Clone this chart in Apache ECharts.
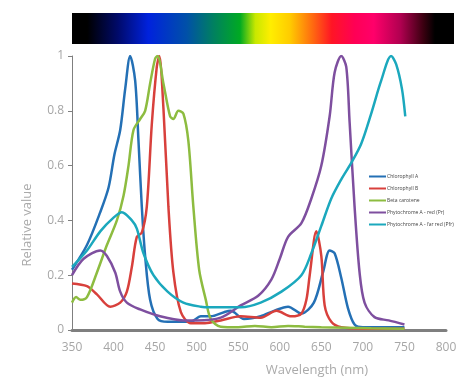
<!DOCTYPE html>
<html><head><meta charset="utf-8">
<script src="https://cdn.jsdelivr.net/npm/echarts@6/dist/echarts.min.js"></script>
<style>html,body{margin:0;padding:0;background:#fff}#c{width:470px;height:382px}</style>
</head><body><div id="c"></div>
<script>
var seriesNames = ['Chlorophyll A', 'Chlorophyll B', 'Beta carotene', 'Phytochrome A - red (Pr)', 'Phytochrome A - far red (Pfr)'];
var xTicks = [350, 400, 450, 500, 550, 600, 650, 700, 750, 800];
var yTicks = [0, 0.2, 0.4, 0.6, 0.8, 1];

var chlA = [[350,0.22],[368,0.31],[384,0.43],[394,0.52],[401,0.64],[408,0.73],[414,0.88],[420,1.0],[426,0.91],[430,0.69],[434,0.45],[438,0.27],[444,0.11],[453,0.04],[465,0.03],[493,0.03],[505,0.05],[517,0.05],[533,0.065],[541,0.07],[557,0.04],[577,0.05],[593,0.07],[610,0.085],[626,0.06],[641,0.1],[652,0.21],[660,0.29],[666,0.28],[674,0.19],[682,0.08],[690,0.02],[700,0.01],[750,0.01]];
var chlB = [[350,0.17],[368,0.16],[380,0.13],[396,0.085],[408,0.10],[416,0.14],[422,0.23],[428,0.34],[434,0.355],[440,0.45],[446,0.75],[452,0.96],[455,1.0],[460,0.81],[466,0.45],[472,0.21],[481,0.065],[493,0.025],[510,0.025],[529,0.035],[553,0.05],[577,0.045],[596,0.07],[614,0.05],[626,0.06],[632,0.11],[636,0.2],[644,0.36],[650,0.27],[654,0.09],[662,0.03],[674,0.01],[700,0.005],[750,0.005]];
var betaCar = [[350,0.10],[355,0.12],[360,0.11],[368,0.12],[380,0.21],[392,0.31],[404,0.40],[412,0.49],[418,0.60],[424,0.73],[432,0.77],[438,0.80],[444,0.90],[450,0.99],[453,1.0],[460,0.90],[468,0.78],[472,0.77],[478,0.80],[484,0.79],[490,0.69],[496,0.45],[503,0.22],[511,0.11],[517,0.04],[529,0.012],[550,0.01],[570,0.015],[590,0.01],[610,0.015],[630,0.012],[650,0.01],[680,0.008],[710,0.006],[750,0.005]];
var phyPr = [[350,0.2],[364,0.26],[384,0.29],[392,0.27],[402,0.21],[408,0.14],[416,0.10],[432,0.075],[456,0.05],[484,0.035],[500,0.035],[529,0.045],[553,0.09],[574,0.125],[590,0.185],[600,0.26],[610,0.34],[626,0.39],[638,0.48],[650,0.60],[660,0.78],[666,0.94],[674,1.0],[680,0.96],[684,0.76],[690,0.45],[696,0.21],[702,0.10],[714,0.047],[731,0.035],[750,0.02]];
var phyPfr = [[350,0.23],[368,0.29],[384,0.36],[400,0.41],[410,0.43],[422,0.40],[428,0.37],[436,0.28],[448,0.20],[465,0.14],[484,0.10],[505,0.085],[517,0.083],[553,0.083],[577,0.10],[602,0.14],[626,0.2],[638,0.28],[650,0.38],[662,0.48],[674,0.55],[686,0.61],[698,0.68],[710,0.79],[722,0.91],[734,1.0],[740,0.97],[747,0.88],[751,0.78]];

var colors = ['#2470b5', '#d8403c', '#8dbc40', '#7e4f9f', '#1ba8bd'];
var seriesData = [chlA, chlB, betaCar, phyPr, phyPfr];

var chart = echarts.init(document.getElementById('c'), null, {renderer: 'canvas'});
var font = 'Open Sans';
chart.setOption({
  animation: false,
  backgroundColor: '#ffffff',
  color: colors,
  grid: {left: 72, right: 24, top: 56, bottom: 51},
  graphic: [{
    type: 'rect',
    shape: {x: 72, y: 13, width: 382, height: 31},
    style: {
      fill: new echarts.graphic.LinearGradient(0, 0, 1, 0, [
        {offset: 0, color: '#000000'},
        {offset: 0.04, color: '#000000'},
        {offset: 0.12, color: '#000a6a'},
        {offset: 0.2, color: '#0022dd'},
        {offset: 0.3, color: '#0050a8'},
        {offset: 0.37, color: '#008060'},
        {offset: 0.44, color: '#00aa22'},
        {offset: 0.48, color: '#c8e800'},
        {offset: 0.52, color: '#ffee00'},
        {offset: 0.57, color: '#ffcc00'},
        {offset: 0.63, color: '#ff6a10'},
        {offset: 0.68, color: '#ff1525'},
        {offset: 0.74, color: '#ff0055'},
        {offset: 0.79, color: '#ff006a'},
        {offset: 0.86, color: '#b00050'},
        {offset: 0.92, color: '#3a0010'},
        {offset: 0.95, color: '#000000'},
        {offset: 1, color: '#000000'}
      ])
    }
  }],
  legend: {
    orient: 'vertical',
    left: 364, top: 169,
    itemWidth: 17, itemHeight: 2, itemGap: 7,
    icon: 'rect',
    textStyle: {fontSize: 5, color: '#444', fontFamily: font, padding: [0,0,0,-4]},
    data: seriesNames
  },
  xAxis: {
    type: 'value', min: 350, max: 800, interval: 50,
    name: 'Wavelength (nm)', nameLocation: 'middle', nameGap: 34,
    nameTextStyle: {color: '#aaaaaa', fontSize: 13, fontFamily: font, padding: [0,0,0,116]},
    axisLine: {show: true, lineStyle: {color: '#7f7f7f', width: 3}},
    axisTick: {show: false},
    axisLabel: {color: '#a6a6a6', fontSize: 12, fontFamily: font, margin: 12},
    splitLine: {show: false}
  },
  yAxis: {
    type: 'value', min: 0, max: 1, interval: 0.2,
    name: 'Relative value', nameLocation: 'middle', nameGap: 38,
    nameTextStyle: {color: '#aaaaaa', fontSize: 13, fontFamily: font, padding: [0,0,0,-64]},
    axisLine: {show: true, lineStyle: {color: '#7f7f7f', width: 1}},
    axisTick: {show: true, length: 4, lineStyle: {color: '#7f7f7f'}},
    axisLabel: {color: '#a6a6a6', fontSize: 12, fontFamily: font, margin: 8},
    splitLine: {show: false}
  },
  series: seriesData.map(function (d, i) {
    return {
      name: seriesNames[i], type: 'line', data: d, smooth: 0.3,
      showSymbol: false, symbol: 'none',
      lineStyle: {width: 2.5, color: colors[i]}
    };
  })
});
</script></body></html>
